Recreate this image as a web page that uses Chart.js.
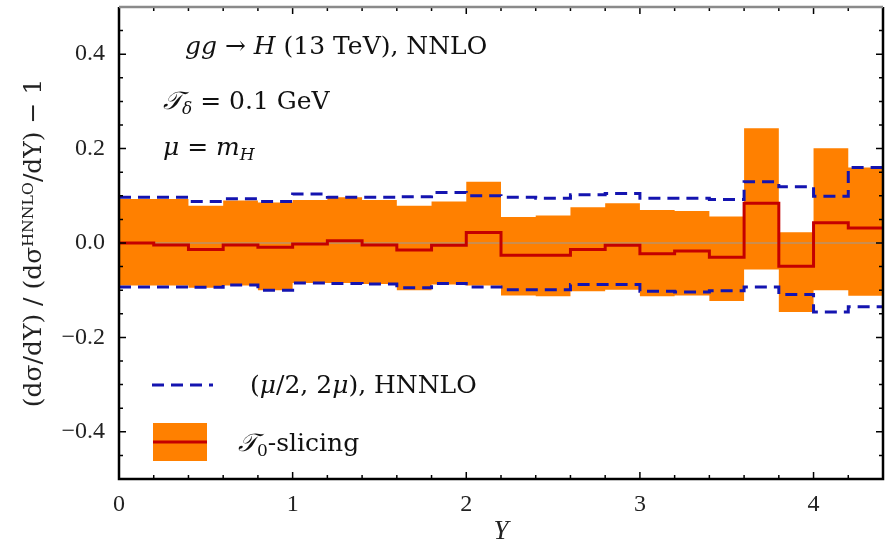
<!DOCTYPE html>
<html>
<head>
<meta charset="utf-8">
<script src="https://cdn.jsdelivr.net/npm/chart.js@4.4.0/dist/chart.umd.min.js"></script>
<style>
  html, body { margin: 0; padding: 0; background: #fff; }
  #wrap { width: 887px; height: 552px; }
</style>
</head>
<body>
<div id="wrap"><canvas id="ratioChart" width="887" height="552"></canvas></div>
<script>
// bin edges in Y (0.2 wide), values are per bin
const binEdges = [0, 0.2, 0.4, 0.6, 0.8, 1.0, 1.2, 1.4, 1.6, 1.8, 2.0, 2.2,
                  2.4, 2.6, 2.8, 3.0, 3.2, 3.4, 3.6, 3.8, 4.0, 4.2, 4.4];
const central   = [0.000, -0.004, -0.014, -0.004, -0.009, -0.002, 0.005, -0.004, -0.015, -0.005, 0.022,
                   -0.026, -0.026, -0.014, -0.005, -0.023, -0.017, -0.030, 0.084, -0.049, 0.043, 0.032];
const bandHigh  = [0.093, 0.093, 0.079, 0.090, 0.086, 0.091, 0.097, 0.091, 0.079, 0.088, 0.130,
                   0.055, 0.058, 0.076, 0.084, 0.070, 0.068, 0.056, 0.243, 0.023, 0.201, 0.160];
const bandLow   = [-0.090, -0.090, -0.095, -0.090, -0.100, -0.085, -0.085, -0.087, -0.100, -0.088, -0.090,
                   -0.111, -0.113, -0.102, -0.099, -0.113, -0.111, -0.123, -0.056, -0.146, -0.100, -0.112];
const scaleUp   = [0.097, 0.097, 0.088, 0.094, 0.088, 0.104, 0.097, 0.097, 0.098, 0.107, 0.100,
                   0.097, 0.095, 0.102, 0.105, 0.095, 0.095, 0.092, 0.130, 0.119, 0.099, 0.160];
const scaleDown = [-0.093, -0.093, -0.094, -0.089, -0.100, -0.085, -0.086, -0.087, -0.095, -0.086, -0.093,
                   -0.099, -0.099, -0.088, -0.088, -0.102, -0.104, -0.101, -0.093, -0.109, -0.146, -0.135];
const xTicks = [0, 1, 2, 3, 4];
const yTicks = [-0.4, -0.2, 0.0, 0.2, 0.4];

const SERIF = '"Liberation Serif", "DejaVu Serif", serif';
const WIDE = '"DejaVu Serif", "Liberation Serif", serif';

function steps(vals) {
    // one point per left edge, last value repeated at the right edge
    return binEdges.map((x, i) => ({ x: x, y: vals[Math.min(i, vals.length - 1)] }));
}

function rich(ctx, x, y, parts) {
    parts.forEach(p => {
        const size = p.size || 25;
        ctx.font = (p.italic ? 'italic ' : '') + size + 'px ' + WIDE;
        ctx.fillText(p.t, x, y + (p.dy || 0));
        x += ctx.measureText(p.t).width;
    });
}

const framePlugin = {
    id: 'frame',
    afterDatasetDraw(chart, args) {
        if (args.index !== 3) return;
        // thin reference line at zero, over the band
        const { ctx, chartArea: a, scales: { y } } = chart;
        ctx.save();
        ctx.strokeStyle = '#9a9a9a';
        ctx.lineWidth = 1;
        ctx.beginPath();
        ctx.moveTo(a.left, y.getPixelForValue(0));
        ctx.lineTo(a.right, y.getPixelForValue(0));
        ctx.stroke();
        ctx.restore();
    },
    afterDraw(chart) {
        const { ctx, chartArea: a, scales: { x, y } } = chart;
        ctx.save();
        // inward ticks
        ctx.strokeStyle = '#000';
        ctx.lineWidth = 1.5;
        ctx.beginPath();
        for (let i = 0; i <= 22; i++) {
            const px = x.getPixelForValue(i * 0.2);
            const len = i % 5 === 0 ? 7 : 4;
            ctx.moveTo(px, a.bottom); ctx.lineTo(px, a.bottom - len);
            ctx.moveTo(px, a.top); ctx.lineTo(px, a.top + len);
        }
        for (let i = -10; i <= 10; i++) {
            const py = y.getPixelForValue(i * 0.05);
            const len = i % 4 === 0 ? 7 : 4;
            ctx.moveTo(a.left, py); ctx.lineTo(a.left + len, py);
            ctx.moveTo(a.right, py); ctx.lineTo(a.right - len, py);
        }
        ctx.stroke();
        // frame
        ctx.lineWidth = 2.5;
        ctx.strokeStyle = '#000';
        ctx.beginPath();
        ctx.moveTo(a.left, a.top); ctx.lineTo(a.left, a.bottom);
        ctx.lineTo(a.right, a.bottom); ctx.lineTo(a.right, a.top);
        ctx.stroke();
        ctx.strokeStyle = '#8a8a8a';
        ctx.beginPath();
        ctx.moveTo(a.left, a.top); ctx.lineTo(a.right, a.top);
        ctx.stroke();

        // labels inside the plot
        ctx.fillStyle = '#111';
        ctx.textBaseline = 'alphabetic';
        const L = a.left;
        rich(ctx, L + 66, 54, [
            { t: 'gg', italic: true }, { t: ' \u2192 ' }, { t: 'H', italic: true },
            { t: ' (13 TeV), NNLO' }
        ]);
        rich(ctx, L + 44, 109, [
            { t: '\uD835\uDCAF', italic: true }, { t: '\u03B4', italic: true, size: 17, dy: 5 },
            { t: ' = 0.1 GeV' }
        ]);
        rich(ctx, L + 44, 155, [
            { t: '\u03BC', italic: true }, { t: ' = ' }, { t: 'm', italic: true },
            { t: 'H', italic: true, size: 17, dy: 5 }
        ]);

        // legend
        ctx.strokeStyle = '#1414b0';
        ctx.lineWidth = 3;
        ctx.setLineDash([12, 7]);
        ctx.beginPath();
        ctx.moveTo(L + 33, 385); ctx.lineTo(L + 94, 385);
        ctx.stroke();
        ctx.setLineDash([]);
        rich(ctx, L + 131, 393, [
            { t: '(' }, { t: '\u03BC', italic: true }, { t: '/2, 2' },
            { t: '\u03BC', italic: true }, { t: '), HNNLO' }
        ]);
        ctx.fillStyle = '#ff8000';
        ctx.fillRect(L + 34, 423, 54, 38);
        ctx.strokeStyle = '#c40000';
        ctx.lineWidth = 3;
        ctx.beginPath();
        ctx.moveTo(L + 34, 442); ctx.lineTo(L + 88, 442);
        ctx.stroke();
        ctx.fillStyle = '#111';
        rich(ctx, L + 119, 451, [
            { t: '\uD835\uDCAF', italic: true }, { t: '0', size: 17, dy: 5 }, { t: '-slicing' }
        ]);
        ctx.restore();
    }
};

const ctx = document.getElementById('ratioChart').getContext('2d');
const ratioChart = new Chart(ctx, {
    type: 'line',
    data: {
        datasets: [
            { label: 'T0-slicing', data: steps(central), stepped: true, borderColor: '#c40000', borderWidth: 3, pointRadius: 0, fill: false },
            { label: 'scale up', data: steps(scaleUp), stepped: true, borderColor: '#1414b0', borderWidth: 3, borderDash: [12, 7], pointRadius: 0, fill: false },
            { label: 'scale down', data: steps(scaleDown), stepped: true, borderColor: '#1414b0', borderWidth: 3, borderDash: [12, 7], pointRadius: 0, fill: false },
            { label: 'band low', data: steps(bandLow), stepped: true, borderWidth: 0, borderColor: 'rgba(0,0,0,0)', pointRadius: 0, fill: '+1', backgroundColor: '#ff8000' },
            { label: 'band high', data: steps(bandHigh), stepped: true, borderWidth: 0, borderColor: 'rgba(0,0,0,0)', pointRadius: 0, fill: false }
        ]
    },
    options: {
        responsive: false,
        animation: false,
        layout: { padding: { top: 7, right: 4, left: 0, bottom: 0 } },
        plugins: { legend: { display: false }, tooltip: { enabled: false } },
        scales: {
            x: {
                type: 'linear', min: 0, max: 4.4,
                afterBuildTicks: s => { s.ticks = xTicks.map(v => ({ value: v })); },
                afterFit: s => { s.height = 73; s.paddingLeft = 0; s.paddingRight = 0; },
                grid: { display: false }, border: { display: false },
                ticks: { color: '#222', padding: 3, maxRotation: 0, font: { family: SERIF, size: 24 } },
                title: { display: true, text: 'Y', color: '#222', padding: { top: 9 }, font: { family: SERIF, size: 27, style: 'italic' } }
            },
            y: {
                min: -0.5, max: 0.5,
                afterBuildTicks: s => { s.ticks = yTicks.map(v => ({ value: v })); },
                afterFit: s => { s.width = 119; s.paddingTop = 0; s.paddingBottom = 0; },
                grid: { display: false }, border: { display: false },
                ticks: {
                    color: '#222', padding: 6, font: { family: SERIF, size: 24 },
                    callback: v => (v < 0 ? '\u2212' : '') + Math.abs(v).toFixed(1)
                },
                title: {
                    display: true, color: '#222', padding: { top: 19, bottom: 0 },
                    text: '(d\u03C3/dY) / (d\u03C3\u1D34\u1D3A\u1D3A\u1D38\u1D3C/dY) \u2212 1',
                    font: { family: WIDE, size: 25 }
                }
            }
        }
    },
    plugins: [framePlugin]
});
</script>
</body>
</html>
